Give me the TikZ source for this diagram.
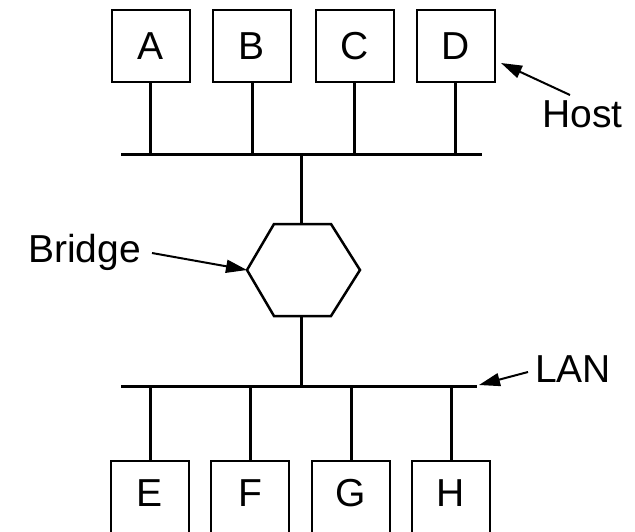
\documentclass[tikz,border=0pt]{standalone}
\usepackage{fontspec}
\setmainfont{Liberation Sans}
\usetikzlibrary{arrows.meta}
\begin{document}
\begin{tikzpicture}[x=1pt,y=-1pt,
  hostbox/.style={draw,line width=2pt,minimum width=78pt,minimum height=72pt,inner sep=0pt,font=\fontsize{39}{39}\selectfont},
  lowbox/.style={hostbox,text height=18pt,text depth=0pt},
  wire/.style={line width=3pt},
  lbl/.style={font=\fontsize{39}{39}\selectfont,inner sep=0pt,anchor=base west},
  pointer/.style={line width=2pt,-{Triangle[length=21pt,width=13pt]}}]
\useasboundingbox (0,0) rectangle (635,531);
\clip (0,0) rectangle (635,531);
% hosts top
\node[hostbox] (A) at (150.5,46) {A};
\node[hostbox] (B) at (252,46) {B};
\node[hostbox] (C) at (354.5,46) {C};
\node[hostbox] (D) at (455.5,46) {D};
% hosts bottom
\node[lowbox] (E) at (150,497) {E};
\node[lowbox] (F) at (250,497) {F};
\node[lowbox] (G) at (351,497) {G};
\node[lowbox] (H) at (451,497) {H};
% buses
\coordinate (topL) at (121,154);
\coordinate (topR) at (482,154);
\coordinate (botL) at (121,386);
\coordinate (botR) at (477,386);
\draw[wire] (topL) -- (topR);
\draw[wire] (botL) -- (botR);
% stems
\foreach \n in {A,B,C,D} \draw[wire] (\n.south) -- (\n.south |- topL);
\foreach \n in {E,F,G,H} \draw[wire] (\n.north) -- (\n.north |- botL);
% bridge hexagon
\coordinate (hexL) at (247,270);
\coordinate (hexTL) at (274,224);
\coordinate (hexTR) at (331,224);
\coordinate (hexR) at (360,270);
\coordinate (hexBR) at (331,316);
\coordinate (hexBL) at (274,316);
\coordinate (hexT) at (301,224);
\coordinate (hexB) at (301,316);
\draw[line width=2.5pt,line join=miter] (hexL) -- (hexTL) -- (hexTR) -- (hexR) -- (hexBR) -- (hexBL) -- cycle;
\draw[wire] (hexT |- topL) -- (hexT);
\draw[wire] (hexB) -- (hexB |- botL);
% labels
\node[lbl] (host) at (542,127) {Host};
\node[lbl] (bridge) at (28,262) {Bridge};
\node[lbl] (lan) at (535,382) {LAN};
\coordinate (hostS) at (570,95);
\coordinate (hostE) at (501,63);
\coordinate (brS) at (152,253);
\coordinate (lanS) at (528,372);
\coordinate (lanE) at (479,385);
\draw[pointer] (hostS) -- (hostE);
\draw[pointer] (brS) -- (hexL);
\draw[pointer] (lanS) -- (lanE);
\end{tikzpicture}
\end{document}
